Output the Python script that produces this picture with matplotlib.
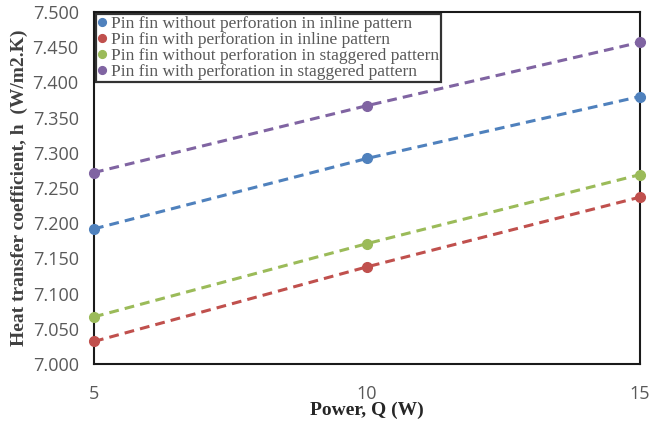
import matplotlib
matplotlib.use("Agg")
import matplotlib.pyplot as plt
from matplotlib.ticker import MultipleLocator, FormatStrFormatter

power = [5, 10, 15]
series_labels = [
    "Pin fin without perforation in inline pattern",
    "Pin fin with perforation in inline pattern",
    "Pin fin without perforation in staggered pattern",
    "Pin fin with perforation in staggered pattern",
]
h_without_inline = [7.192, 7.292, 7.380]
h_with_inline = [7.032, 7.138, 7.237]
h_without_staggered = [7.067, 7.171, 7.269]
h_with_staggered = [7.272, 7.367, 7.457]
colors = ["#4F81BD", "#C0504D", "#9BBB59", "#8064A2"]

fig = plt.figure(figsize=(6.51, 4.21), dpi=100)
ax = fig.add_axes([0.1444, 0.1354, 0.8386, 0.836])

for vals, lab, c in zip([h_without_inline, h_with_inline, h_without_staggered, h_with_staggered],
                        series_labels, colors):
    ax.plot(power, vals, color=c, lw=2.2, dashes=(3.2, 2.0), zorder=3, clip_on=False)
    ax.plot(power, vals, 'o', color=c, ms=7, label=lab, zorder=4, clip_on=False)

ax.set_xlim(5, 15)
ax.set_ylim(7.0, 7.5)
ax.set_xticks([5, 10, 15])
ax.yaxis.set_major_locator(MultipleLocator(0.05))
ax.yaxis.set_major_formatter(FormatStrFormatter('%.3f'))
ax.tick_params(length=0, labelsize=13, labelcolor='#595959')
ax.tick_params(axis='y', pad=11)
ax.tick_params(axis='x', pad=15)
for lbl in ax.get_xticklabels() + ax.get_yticklabels():
    lbl.set_family('Open Sans')
for s in ax.spines.values():
    s.set_linewidth(1.5)
    s.set_color('#1a1a1a')

ax.set_xlabel("Power, Q (W)", family='Liberation Serif', fontweight='bold',
              fontsize=14, color='#262626', labelpad=-1)
ax.set_ylabel("Heat transfer coefficient, h  (W/m2.K)", family='Liberation Serif',
              fontweight='bold', fontsize=14, color='#404040', labelpad=3)

leg = ax.legend(loc='upper left', bbox_to_anchor=(0.0, 1.0), frameon=True, fancybox=False,
                prop={'family': 'Liberation Serif', 'size': 12.5}, handlelength=0.5,
                handletextpad=0.3, labelspacing=0.0, borderpad=0.1, borderaxespad=0.1,
                markerscale=0.8)
leg.get_frame().set_edgecolor('black')
leg.get_frame().set_linewidth(1.6)
for t in leg.get_texts():
    t.set_color('#595959')

fig.savefig("out.png", dpi=100)
